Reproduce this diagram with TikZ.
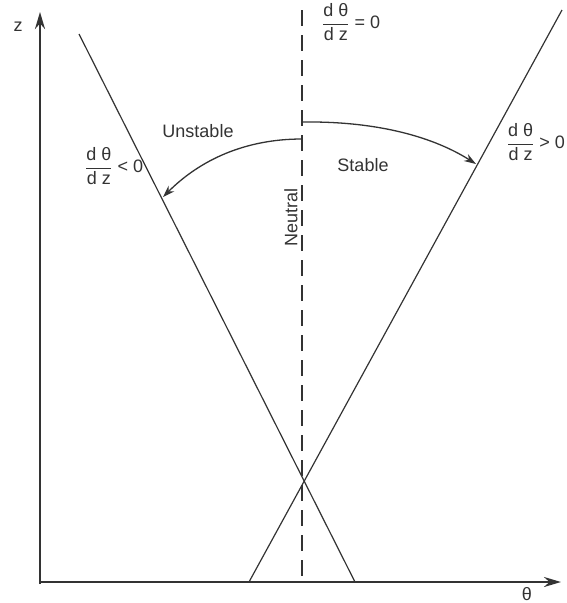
\documentclass[tikz,border=0pt]{standalone}
\usepackage{amsmath}
\usepackage{fontspec}
\setmainfont{Liberation Sans}
\usetikzlibrary{arrows.meta}
\definecolor{ink}{HTML}{333333}
\tikzset{
  axis/.style={draw=ink,line width=2.4pt,-{Stealth[length=17pt,width=10pt]}},
  bound/.style={draw=ink,line width=1.2pt},
  neutralline/.style={draw=ink,line width=1.6pt,dash pattern=on 16pt off 9pt},
  curvearrow/.style={draw=ink,line width=1.3pt,-{Stealth[length=12pt,width=8pt]}},
  lbl/.style={text=ink,font=\fontsize{18}{21}\selectfont,inner sep=0pt},
}
\newcommand{\dtdz}{$\dfrac{\text{d θ}}{\text{d z}}$}
\begin{document}
\begin{tikzpicture}[x=1pt,y=-1pt]
\useasboundingbox (0,0) rectangle (566,603);
\begin{scope}
\clip (0,0) rectangle (566,603);
% axes
\coordinate (O) at (40,582);
\coordinate (ztip) at (40,12);
\coordinate (ttip) at (561,582);
\draw[axis] (40,584) -- (ztip);
\draw[axis] (O) -- (ttip);
\node[lbl] (zl) at (18,27) {z};
\node[lbl] (tl) at (527,594) {θ};
% boundary lines
\coordinate (Ltop) at (79,34);
\coordinate (Lbot) at (355,582);
\coordinate (Rtop) at (562,10);
\coordinate (Rbot) at (249,582);
\draw[bound] (Ltop) -- (Lbot);
\draw[bound] (Rbot) -- (Rtop);
% neutral line
\coordinate (Ntop) at (302,10);
\coordinate (Nbot) at (302,576);
\draw[neutralline] (Ntop) -- (Nbot);
\node[lbl,rotate=90] (neutral) at (291,217) {Neutral};
% arrows
\coordinate (Us) at (302,139);
\coordinate (Ue) at (163,197);
\coordinate (Ss) at (302,122);
\coordinate (Se) at (476,164);
\draw[curvearrow] (Us) .. controls (245,139) and (200,160) .. (Ue);
\draw[curvearrow] (Ss) .. controls (380,121) and (435,138) .. (Se);
\node[lbl] (unstable) at (198,131) {Unstable};
\node[lbl] (stable) at (363,165) {Stable};
% fractions
\node[lbl,anchor=west] (f0) at (322,22) {\dtdz{} = 0};
\node[lbl,anchor=east] (fp) at (565,142) {\dtdz{} > 0};
\node[lbl,anchor=west] (fn) at (85,166) {\dtdz{} < 0};
\end{scope}
\end{tikzpicture}
\end{document}
